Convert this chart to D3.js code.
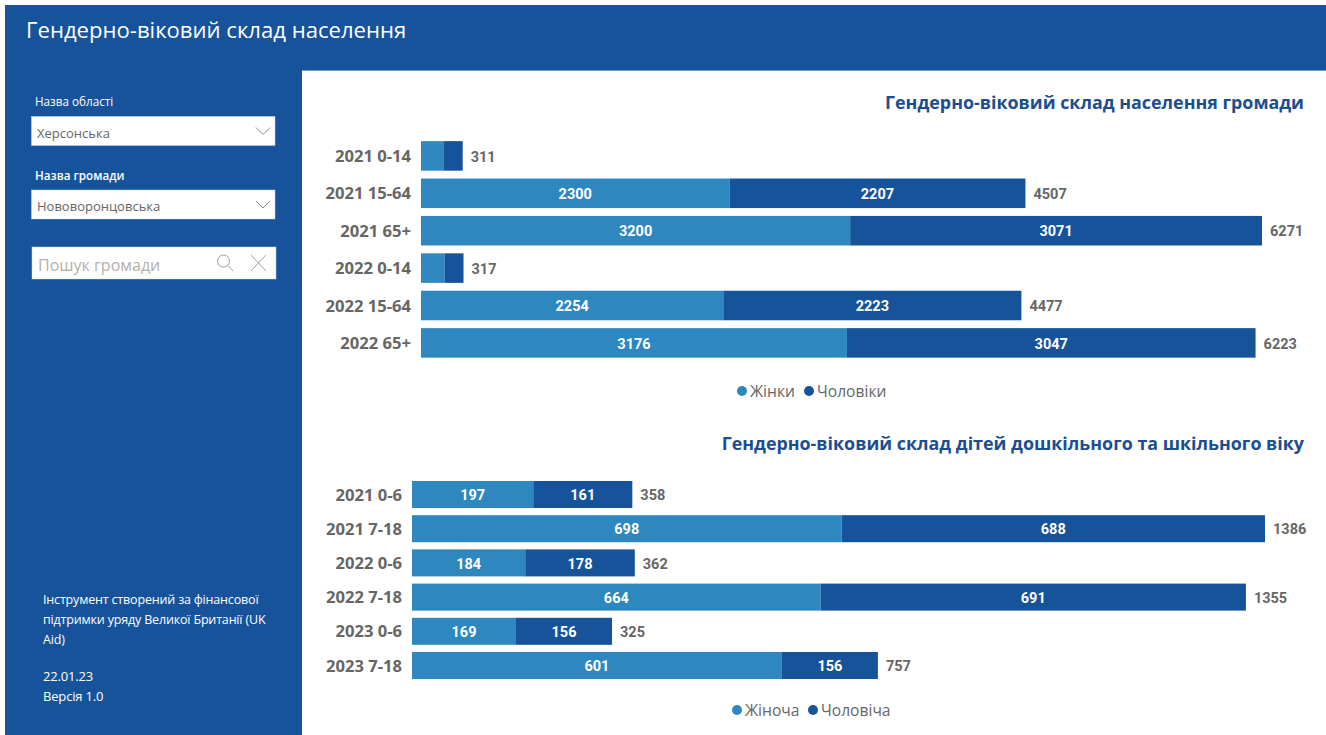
<!DOCTYPE html>
<html lang="uk">
<head>
<meta charset="utf-8">
<title>Гендерно-віковий склад населення</title>
<script src="https://cdn.jsdelivr.net/npm/d3@7"></script>
<style>
html, body { margin: 0; padding: 0; background: #fff; overflow: hidden; }
svg { display: block; }
text { font-family: "Open Sans", "Noto Sans", sans-serif; }
.val { font-family: Roboto, sans-serif; font-weight: 700; font-size: 14.5px; }
.cat { font-weight: 700; font-size: 16.6px; fill: #666666; }
</style>
</head>
<body>
<svg id="chart" width="1326" height="735"></svg>
<script>
var colorWomen = "#2e88bf";
var colorMen = "#16539b";
var colorGrey = "#666666";

var topCategories = ["2021 0-14", "2021 15-64", "2021 65+", "2022 0-14", "2022 15-64", "2022 65+"];
var topWomen = [171, 2300, 3200, 175, 2254, 3176];
var topMen = [140, 2207, 3071, 142, 2223, 3047];
var topTotals = [311, 4507, 6271, 317, 4477, 6223];
var topHideLabels = [true, false, false, true, false, false];
var topLegend = ["Жінки", "Чоловіки"];

var lowCategories = ["2021 0-6", "2021 7-18", "2022 0-6", "2022 7-18", "2023 0-6", "2023 7-18"];
var lowWomen = [197, 698, 184, 664, 169, 601];
var lowMen = [161, 688, 178, 691, 156, 156];
var lowTotals = [358, 1386, 362, 1355, 325, 757];
var lowHideLabels = [false, false, false, false, false, false];
var lowLegend = ["Жіноча", "Чоловіча"];

var footerLines = ["Інструмент створений за фінансової", "підтримки уряду Великої Британії (UK", "Aid)"];

var svg = d3.select("#chart");

// page frame: blue header and sidebar, white canvas for the charts
svg.append("rect").attr("x", 5).attr("y", 5).attr("width", 1321).attr("height", 66).attr("fill", colorMen);
svg.append("rect").attr("x", 5).attr("y", 5).attr("width", 297).attr("height", 730).attr("fill", colorMen);
svg.append("rect").attr("x", 302).attr("y", 70).attr("width", 1024).attr("height", 1).attr("fill", "#6f9ccb");

svg.append("text")
    .attr("x", 26).attr("y", 38)
    .attr("fill", "#fff")
    .style("font-family", "'Open Sans', sans-serif")
    .style("font-size", "22.1px")
    .text("Гендерно-віковий склад населення");

function dropdown(label, value, labelY, boxY, labelWeight) {
    svg.append("text").attr("x", 35).attr("y", labelY).attr("fill", "#fff")
        .style("font-size", "11.7px").style("font-weight", labelWeight).text(label);
    svg.append("rect").attr("x", 31.5).attr("y", boxY).attr("width", 243.5).attr("height", 29)
        .attr("fill", "#fff").attr("stroke", "#c8d3e3").attr("stroke-width", 0.5);
    svg.append("text").attr("x", 37).attr("y", boxY + 21).attr("fill", colorGrey)
        .style("font-size", "13px").text(value);
    svg.append("path")
        .attr("d", d3.line()([[256, boxY + 11], [263, boxY + 18], [270, boxY + 11]]))
        .attr("fill", "none").attr("stroke", "#8a8886").attr("stroke-width", 1);
}
dropdown("Назва області", "Херсонська", 106, 116.5, 400);
dropdown("Назва громади", "Нововоронцовська", 180, 190, 600);

svg.append("rect").attr("x", 32).attr("y", 247).attr("width", 244).attr("height", 32)
    .attr("fill", "#fff").attr("stroke", "#c8d3e3").attr("stroke-width", 0.5);
svg.append("text").attr("x", 38).attr("y", 271).attr("fill", "#b3b0ad")
    .style("font-size", "16px").text("Пошук громади");
svg.append("circle").attr("cx", 223.5).attr("cy", 261).attr("r", 6)
    .attr("fill", "none").attr("stroke", "#a19f9d").attr("stroke-width", 1);
svg.append("path").attr("d", "M228,265.5L233,271").attr("stroke", "#a19f9d").attr("stroke-width", 1);
svg.append("path").attr("d", "M251,255L266,271M266,255L251,271").attr("stroke", "#a19f9d").attr("stroke-width", 1);

svg.selectAll("text.foot")
    .data(footerLines)
    .join("text")
    .attr("class", "foot")
    .attr("x", 43)
    .attr("y", function(d, i) { return 604 + i * 20; })
    .attr("fill", "#fff")
    .style("font-size", "12.5px")
    .style("letter-spacing", "-0.17px")
    .text(function(d) { return d; });
svg.append("text").attr("x", 43).attr("y", 681).attr("fill", "#fff").style("font-size", "13px").style("letter-spacing", "-0.17px").text("22.01.23");
svg.append("text").attr("x", 43).attr("y", 701).attr("fill", "#fff").style("font-size", "13px").style("letter-spacing", "-0.17px").text("Версія 1.0");

/**
 * Draws one stacked horizontal bar panel with its title and legend
 */
function drawPanel(opts) {
    var x = d3.scaleLinear().domain([0, opts.maxValue]).range(opts.xRange);
    var y = d3.scaleBand().domain(opts.categories).range(opts.yRange).paddingInner(opts.padding).paddingOuter(opts.padding / 2);
    var g = svg.append("g");

    svg.append("text")
        .attr("x", 1304).attr("y", opts.titleY)
        .attr("text-anchor", "end")
        .attr("fill", "#1c4e8f")
        .style("font-size", "17.87px").style("font-weight", 700)
        .text(opts.title);

    var axis = g.append("g")
        .attr("transform", "translate(" + opts.xRange[0] + ",0.8)")
        .call(d3.axisLeft(y).tickSize(0).tickPadding(10));
    axis.select(".domain").remove();
    axis.selectAll("text").attr("class", "cat");

    opts.categories.forEach(function(cat, i) {
        var x0 = x(0), x1 = x(opts.women[i]), x2 = x(opts.women[i] + opts.men[i]);
        var by = y(cat), bh = y.bandwidth();
        g.append("rect").attr("x", x0).attr("y", by).attr("width", x1 - x0).attr("height", bh).attr("fill", colorWomen);
        g.append("rect").attr("x", x1).attr("y", by).attr("width", x2 - x1).attr("height", bh).attr("fill", colorMen);
        if (!opts.hide[i]) {
            g.append("text").attr("class", "val").attr("x", (x0 + x1) / 2).attr("y", by + bh / 2 + 0.5).attr("dy", "0.36em")
                .attr("text-anchor", "middle").attr("fill", "#fff").text(opts.women[i]);
            g.append("text").attr("class", "val").attr("x", (x1 + x2) / 2).attr("y", by + bh / 2 + 0.5).attr("dy", "0.36em")
                .attr("text-anchor", "middle").attr("fill", "#fff").text(opts.men[i]);
        }
        g.append("text").attr("class", "val").attr("x", x2 + 8).attr("y", by + bh / 2 + 0.5).attr("dy", "0.36em")
            .attr("fill", colorGrey).text(opts.totals[i]);
    });

    var legend = svg.append("g").attr("transform", "translate(0," + opts.legendY + ")");
    opts.legendX.forEach(function(lx, i) {
        legend.append("circle").attr("cx", lx).attr("cy", 0).attr("r", 5).attr("fill", i === 0 ? colorWomen : colorMen);
        legend.append("text").attr("x", lx + 8).attr("y", 5.5).attr("fill", colorGrey)
            .style("font-size", "15.6px").text(opts.legend[i]);
    });
}

drawPanel({
    title: "Гендерно-віковий склад населення громади",
    titleY: 108.5,
    categories: topCategories,
    women: topWomen,
    men: topMen,
    totals: topTotals,
    hide: topHideLabels,
    legend: topLegend,
    maxValue: 6271,
    xRange: [421, 1262],
    yRange: [137.2, 361.6],
    padding: 0.21,
    legendY: 391,
    legendX: [742, 809]
});

drawPanel({
    title: "Гендерно-віковий склад дітей дошкільного та шкільного віку",
    titleY: 449.5,
    categories: lowCategories,
    women: lowWomen,
    men: lowMen,
    totals: lowTotals,
    hide: lowHideLabels,
    legend: lowLegend,
    maxValue: 1386,
    xRange: [412, 1265],
    yRange: [477.4, 682.6],
    padding: 0.21,
    legendY: 710,
    legendX: [737, 813]
});
</script>
</body>
</html>
